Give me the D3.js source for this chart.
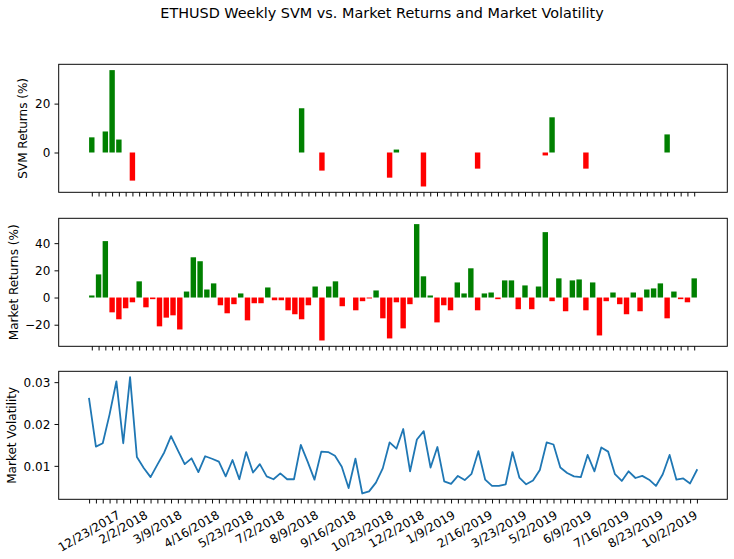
<!DOCTYPE html>
<html>
<head>
<meta charset="utf-8">
<script src="https://cdn.jsdelivr.net/npm/d3@7/dist/d3.min.js"></script>
<style>
  body { margin: 0; background: #fff; }
  svg text { font-family: "DejaVu Sans", sans-serif; fill: #000; }
</style>
</head>
<body>
<svg id="chart" width="734" height="559"></svg>
<script>
// weekly SVM strategy returns (%), 0 = out of market that week
var svmReturns = [
  6.2, 0, 8.6, 33.7, 5.3, 0, -11.5, 0, 0, 0,
  0, 0, 0, 0, 0, 0, 0, 0, 0, 0,
  0, 0, 0, 0, 0, 0, 0, 0, 0, 0,
  0, 18.1, 0, 0, -7.4, 0, 0, 0, 0, 0,
  0, 0, 0, 0, -10.3, 1.2, 0, 0, 0, -13.9,
  0, 0, 0, 0, 0, 0, 0, -6.6, 0, 0,
  0, 0, 0, 0, 0, 0, 0, -1.2, 14.4, 0,
  0, 0, 0, -6.6, 0, 0, 0, 0, 0, 0,
  0, 0, 0, 0, 0, 7.4, 0, 0, 0, 0
];

// weekly market returns (%)
var marketReturns = [
  1.5, 17, 41.5, -10.9, -16, -7.9, -3.5, 11.9, -7.2, -1.2,
  -21.2, -14.8, -13.1, -23.5, 4.4, 29.6, 26.7, 5.9, 10.4, -5.7,
  -11.6, -4.9, 3, -16.8, -4.2, -4.2, 7.4, -2, -2, -9.4,
  -12.3, -16, -5.7, 8.1, -31.6, 8.1, 11.9, -6.4, 0, -9.4,
  -2.7, -0.7, 5.2, -15.3, -30.1, -3.5, -22.7, -4.9, 54, 15.6,
  1.5, -18.3, -5.7, -9.4, 11.1, 3, 21.5, -9.4, 3, 3.7,
  -1.2, 12.6, 12.6, -8.6, 8.9, -8.6, 8.1, 48.1, -2.7, 14.1,
  -10.1, 12.6, 13.3, -9.4, 11.1, -27.9, -2.7, 3.7, -4.9, -12.3,
  3.7, -10.1, 5.9, 6.7, 10.4, -15.3, 4.4, -1.2, -3.5, 14.1
];

// weekly market volatility
var volatility = [
  0.0260, 0.0146, 0.0154, 0.0223, 0.0302, 0.0154, 0.0312, 0.0121, 0.0095, 0.0073,
  0.0103, 0.0132, 0.0171, 0.0137, 0.0104, 0.0118, 0.0085, 0.0123, 0.0117, 0.0110,
  0.0075, 0.0114, 0.0068, 0.0133, 0.0084, 0.0104, 0.0075, 0.0068, 0.0082, 0.0068,
  0.0068, 0.0150, 0.0110, 0.0067, 0.0134, 0.0133, 0.0124, 0.0098, 0.0047, 0.0117,
  0.0034, 0.0039, 0.0060, 0.0094, 0.0156, 0.0141, 0.0188, 0.0087, 0.0163, 0.0183,
  0.0096, 0.0145, 0.0063, 0.0057, 0.0076, 0.0066, 0.0081, 0.0135, 0.0067, 0.0052,
  0.0052, 0.0056, 0.0133, 0.0072, 0.0056, 0.0065, 0.0090, 0.0156, 0.0151, 0.0096,
  0.0083, 0.0075, 0.0073, 0.0126, 0.0087, 0.0144, 0.0134, 0.0080, 0.0064, 0.0087,
  0.0071, 0.0076, 0.0067, 0.0052, 0.0080, 0.0126, 0.0067, 0.0070, 0.0058, 0.0090
];

// every 5th week gets a date label
var dateLabels = ["12/23/2017", "2/2/2018", "3/9/2018", "4/16/2018", "5/23/2018", "7/2/2018",
  "8/9/2018", "9/16/2018", "10/23/2018", "12/2/2018", "1/9/2019", "2/16/2019",
  "3/23/2019", "5/2/2019", "6/9/2019", "7/16/2019", "8/23/2019", "10/2/2019"];
var labelEvery = 5;

var svmTicks = [0, 20];
var marketTicks = [-20, 0, 20, 40];
var volTicks = [0.01, 0.02, 0.03];

var left = 58.7, right = 727.3, ph = 128;
var tops = [64.3, 218.3, 371.3];
var tickLen = 4.2, lw = 0.96;

var svg = d3.select("#chart");
svg.append("rect").attr("width", 734).attr("height", 559).attr("fill", "#fff");

svg.append("text")
  .attr("x", 382).attr("y", 18)
  .attr("text-anchor", "middle")
  .style("font-size", "14.4px")
  .text("ETHUSD Weekly SVM vs. Market Returns and Market Volatility");

var idx = d3.range(marketReturns.length);

// matplotlib style 5% margins
function pad(lo, hi) {
  var m = (hi - lo) * 0.05;
  return [lo - m, hi + m];
}

var xBar = d3.scaleLinear().domain(pad(-0.4, idx.length - 1 + 0.4)).range([left, right]);
var xLine = d3.scaleLinear().domain(pad(0, idx.length - 1)).range([left, right]);

function styleAxis(g) {
  g.attr("font-size", 12).attr("font-family", "DejaVu Sans, sans-serif").attr("color", "#000");
  g.select(".domain").remove();
  g.selectAll(".tick line").attr("stroke-width", lw);
}

function frame(top, yScale, ticks, fmt, x, label, labelX) {
  var gy = svg.append("g")
    .attr("transform", "translate(" + left + ",0)")
    .call(d3.axisLeft(yScale).tickValues(ticks).tickFormat(fmt).tickSize(tickLen).tickPadding(4.2));
  styleAxis(gy);
  gy.selectAll(".tick text").attr("dy", "0.35em");

  var gx = svg.append("g")
    .attr("transform", "translate(0," + (top + ph) + ")")
    .call(d3.axisBottom(x).tickValues(idx).tickFormat("").tickSizeInner(tickLen).tickSizeOuter(0));
  styleAxis(gx);

  svg.append("rect")
    .attr("x", left).attr("y", top)
    .attr("width", right - left).attr("height", ph)
    .attr("fill", "none").attr("stroke", "#000").attr("stroke-width", lw);

  svg.append("text")
    .attr("transform", "translate(" + labelX + "," + (top + ph / 2) + ") rotate(-90)")
    .attr("text-anchor", "middle")
    .attr("dy", "0.35em")
    .style("font-size", "12px")
    .text(label);
}

function barPanel(data, top, ticks, label, labelX) {
  var y = d3.scaleLinear()
    .domain(pad(Math.min(0, d3.min(data)), Math.max(0, d3.max(data))))
    .range([top + ph, top]);

  svg.append("g").selectAll("rect")
    .data(data)
    .join("rect")
      .attr("x", function(d, i) { return xBar(i - 0.4); })
      .attr("width", xBar(0.8) - xBar(0))
      .attr("y", function(d) { return y(Math.max(0, d)); })
      .attr("height", function(d) { return Math.abs(y(d) - y(0)); })
      .attr("fill", function(d) { return d >= 0 ? "green" : "red"; });

  frame(top, y, ticks, d3.format("d"), xBar, label, labelX);
}

barPanel(svmReturns, tops[0], svmTicks, "SVM Returns (%)", 23);
barPanel(marketReturns, tops[1], marketTicks, "Market Returns (%)", 14);

// volatility line
var yVol = d3.scaleLinear()
  .domain(pad(d3.min(volatility), d3.max(volatility)))
  .range([tops[2] + ph, tops[2]]);

svg.append("path")
  .datum(volatility)
  .attr("fill", "none")
  .attr("stroke", "#1f77b4")
  .attr("stroke-width", 1.8)
  .attr("stroke-linejoin", "round")
  .attr("stroke-linecap", "square")
  .attr("d", d3.line().x(function(d, i) { return xLine(i); }).y(function(d) { return yVol(d); }));

frame(tops[2], yVol, volTicks, d3.format(".2f"), xLine, "Market Volatility", 12);

// rotated date labels, centred under their tick
var labTop = tops[2] + ph + tickLen + 4.2;
svg.append("g").selectAll("text")
  .data(dateLabels)
  .join("text")
    .attr("text-anchor", "middle")
    .attr("dy", "0.35em")
    .style("font-size", "12px")
    .text(function(d) { return d; })
    .each(function(d, i) {
      var w = this.getComputedTextLength();
      var cy = labTop + (w * 0.5 + 14 * 0.866) / 2;
      d3.select(this).attr("transform", "translate(" + xLine(i * labelEvery) + "," + cy + ") rotate(-30)");
    });
</script>
</body>
</html>
